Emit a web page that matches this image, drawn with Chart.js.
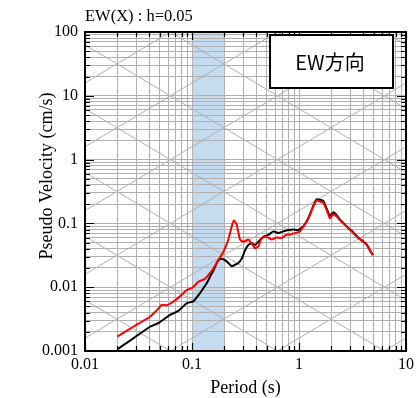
<!DOCTYPE html>
<html><head><meta charset="utf-8">
<script src="https://cdn.jsdelivr.net/npm/chart.js@4.4.0/dist/chart.umd.min.js"></script>
<style>html,body{margin:0;padding:0;background:#fff}#wrap{width:419px;height:398px}</style>
</head><body><div id="wrap"><canvas id="c" width="419" height="398"></canvas></div>
<script>
const periodsRed = [0.02,0.0283,0.0405,0.0484,0.0521,0.058,0.0623,0.0745,0.0892,0.0994,0.1066,0.1145,0.1232,0.1322,0.142,0.158,0.176,0.1962,0.2185,0.235,0.247,0.2618,0.281,0.3015,0.336,0.361,0.388,0.417,0.448,0.499,0.556,0.619,0.689,0.767,0.824,0.918,1.021,1.097,1.18,1.268,1.361,1.463,1.571,1.688,1.815,1.95,2.094,2.25,2.417,2.596,2.891,3.22,3.58,3.99,4.29,4.61,4.89];
const svRed = [0.00168,0.0024,0.00345,0.0046,0.0053,0.0052,0.0055,0.0068,0.009,0.0097,0.0107,0.0122,0.0128,0.0136,0.0155,0.0195,0.0265,0.0357,0.0557,0.0893,0.111,0.095,0.0557,0.0515,0.0557,0.0489,0.0408,0.0434,0.059,0.0615,0.0557,0.06,0.059,0.0667,0.0667,0.0705,0.075,0.0893,0.106,0.136,0.184,0.23,0.22,0.21,0.162,0.12,0.14,0.128,0.112,0.1,0.0835,0.0705,0.059,0.0515,0.0462,0.0375,0.0318];
const periodsBlack = [0.02,0.0283,0.0405,0.0484,0.0623,0.0745,0.0892,0.1028,0.1188,0.1371,0.1473,0.158,0.176,0.1895,0.2034,0.2185,0.235,0.2523,0.271,0.2913,0.3126,0.336,0.361,0.388,0.417,0.4637,0.5166,0.575,0.641,0.713,0.794,0.885,0.985,1.097,1.18,1.268,1.361,1.463,1.571,1.688,1.815,1.95,2.094,2.25,2.417,2.596,2.891,3.22,3.58,3.99,4.29,4.61,4.89];
const svBlack = [0.00106,0.00158,0.0024,0.00273,0.00367,0.00425,0.0056,0.006,0.0081,0.0115,0.0146,0.018,0.0265,0.028,0.0265,0.024,0.0213,0.0225,0.024,0.028,0.0375,0.0462,0.049,0.046,0.0515,0.0615,0.066,0.075,0.0705,0.075,0.079,0.08,0.079,0.09,0.108,0.14,0.19,0.24,0.235,0.225,0.17,0.13,0.15,0.135,0.115,0.102,0.085,0.072,0.06,0.052,0.047,0.038,0.032];
const xTickLabels = ['0.01','0.1','1','10'];
const yTickLabels = ['0.001','0.01','0.1','1','10','100'];
const bandRange = [0.1, 0.2];
const saLines = [0.001,0.01,0.1,1,10,100,1000,10000,100000];   // gal
const sdLines = [0.00001,0.0001,0.001,0.01,0.1,1,10,100,1000]; // cm
const boxLabel = 'EW方向';
const topLabel = 'EW(X) : h=0.05';

const GRID = '#b0b0b0';
function logTicks(min, max){
  const t=[]; 
  for(let e=Math.round(Math.log10(min)); e<Math.round(Math.log10(max)); e++){
    for(let m=1;m<=9;m++) t.push({value: m*Math.pow(10,e), major: m===1});
  }
  t.push({value:max, major:true});
  return t;
}
function isDecade(v){ const l=Math.log10(v); return Math.abs(l-Math.round(l))<1e-9; }

const decor = {
  id:'decor',
  beforeDraw(chart){
    const {ctx, chartArea:a, scales:{x}} = chart;
    const x0=x.getPixelForValue(bandRange[0]), x1=x.getPixelForValue(bandRange[1]);
    ctx.save(); ctx.fillStyle='#c5dbef'; ctx.fillRect(x0,a.top,x1-x0,a.bottom-a.top); ctx.restore();
  },
  beforeDatasetsDraw(chart){
    const {ctx, chartArea:a, scales:{x,y}} = chart;
    ctx.save();
    ctx.beginPath(); ctx.rect(a.left,a.top,a.right-a.left,a.bottom-a.top); ctx.clip();
    ctx.strokeStyle=GRID; ctx.lineWidth=1;
    const T0=0.001, T1=100;
    saLines.forEach(A=>{
      ctx.beginPath();
      ctx.moveTo(x.getPixelForValue(T0), y.getPixelForValue(A*T0/(2*Math.PI)));
      ctx.lineTo(x.getPixelForValue(T1), y.getPixelForValue(A*T1/(2*Math.PI)));
      ctx.stroke();
    });
    sdLines.forEach(D=>{
      ctx.beginPath();
      ctx.moveTo(x.getPixelForValue(T0), y.getPixelForValue(2*Math.PI*D/T0));
      ctx.lineTo(x.getPixelForValue(T1), y.getPixelForValue(2*Math.PI*D/T1));
      ctx.stroke();
    });
    ctx.restore();
  },
  afterDraw(chart){
    const {ctx, chartArea:a, scales:{x,y}} = chart;
    ctx.save();
    ctx.strokeStyle='#000'; ctx.lineWidth=1.2;
    x.ticks.forEach(t=>{
      const px=Math.round(x.getPixelForValue(t.value))+0.5; const L=isDecade(t.value)?8:5;
      ctx.beginPath(); ctx.moveTo(px,a.bottom); ctx.lineTo(px,a.bottom-L); ctx.moveTo(px,a.top); ctx.lineTo(px,a.top+L); ctx.stroke();
    });
    y.ticks.forEach(t=>{
      const py=Math.round(y.getPixelForValue(t.value))+0.5; const L=isDecade(t.value)?9:5;
      ctx.beginPath(); ctx.moveTo(a.left,py); ctx.lineTo(a.left+L,py); ctx.moveTo(a.right,py); ctx.lineTo(a.right-L,py); ctx.stroke();
    });
    ctx.lineWidth=2; ctx.strokeRect(a.left,a.top,a.right-a.left,a.bottom-a.top);
    ctx.fillStyle='#fff'; ctx.fillRect(270,35,123,53);
    ctx.lineWidth=2; ctx.strokeStyle='#000'; ctx.strokeRect(270,35,123,53);
    ctx.fillStyle='#000'; ctx.font='20px "Noto Sans CJK JP"'; ctx.textAlign='center'; ctx.textBaseline='middle';
    ctx.fillText(boxLabel, 330, 62);
    ctx.font='16.5px "Liberation Serif"'; ctx.textAlign='left'; ctx.textBaseline='middle';
    ctx.fillText(topLabel, 85, 17);
    ctx.font='18px "Liberation Serif"'; ctx.textAlign='center';
    ctx.fillText('Period (s)', (a.left+a.right)/2, 388);
    ctx.translate(47,176); ctx.rotate(-Math.PI/2);
    ctx.fillText('Pseudo Velocity (cm/s)', 0, 0);
    ctx.restore();
  }
};

new Chart(document.getElementById('c'), {
  type:'line',
  data:{datasets:[
    {label:'red', data: periodsRed.map((t,i)=>({x:t,y:svRed[i]})), borderColor:'#ff0000', borderWidth:2, pointRadius:0, tension:0.15, fill:false},
    {label:'black', data: periodsBlack.map((t,i)=>({x:t,y:svBlack[i]})), borderColor:'#000000', borderWidth:2, pointRadius:0, tension:0.15, fill:false}
  ]},
  options:{
    responsive:false, animation:false,
    layout:{padding:{top:32,right:13,left:0,bottom:0}},
    plugins:{legend:{display:false}, tooltip:{enabled:false}},
    scales:{
      x:{type:'logarithmic', min:0.01, max:10,
        afterBuildTicks(s){ s.ticks=logTicks(0.01,10); },
        afterFit(s){ s.height=47; },
        grid:{color:GRID, lineWidth:1, drawTicks:false},
        border:{display:false},
        ticks:{autoSkip:false, maxRotation:0, padding:4, color:'#000', font:{family:'Liberation Serif', size:16},
          callback(v){ if(!isDecade(v)) return ''; const i=Math.round(Math.log10(v))+2; return xTickLabels[i]; }}
      },
      y:{type:'logarithmic', min:0.001, max:100,
        afterBuildTicks(s){ s.ticks=logTicks(0.001,100); },
        afterFit(s){ s.width=85; },
        grid:{color:GRID, lineWidth:1, drawTicks:false},
        border:{display:false},
        ticks:{autoSkip:false, padding:7, color:'#000', font:{family:'Liberation Serif', size:16},
          callback(v){ if(!isDecade(v)) return ''; const i=Math.round(Math.log10(v))+3; return yTickLabels[i]; }}
      }
    }
  },
  plugins:[decor]
});
</script></body></html>
